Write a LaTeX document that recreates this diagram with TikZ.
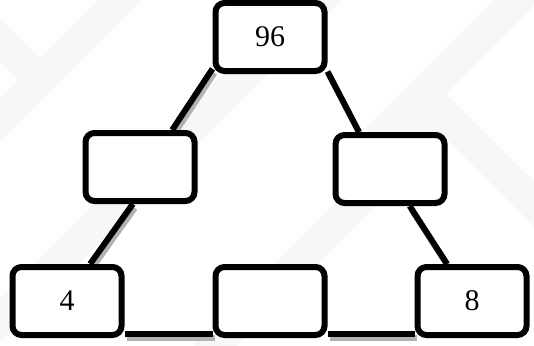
\documentclass[tikz,border=0pt]{standalone}
\usepackage{fontspec}
\setmainfont{Liberation Serif}
\usetikzlibrary{calc,backgrounds}

\tikzset{
  numbox/.style={draw, line width=6pt, rounded corners=9pt, fill=white, minimum width=109pt, minimum height=68pt, font=\fontsize{30}{34}\selectfont},
  link/.style={line width=6pt, preaction={draw=gray!60, line width=6pt, transform canvas={shift={(2pt,-4pt)}}}},
  stripe/.style={line width=32pt, gray!6}
}

\begin{document}
\begin{tikzpicture}[x=1pt, y=-1pt]
    \useasboundingbox (0,0) rectangle (534,345);
    \node (top) [numbox] at (270,37) {96};
    \node (ml) [numbox] at (140,167) {};
    \node (mr) [numbox] at (390,169) {};
    \node (bl) [numbox] at (67,301) {4};
    \node (bc) [numbox] at (270,301) {};
    \node (br) [numbox] at (472,301) {8};
    \begin{pgfonlayer}{background}
      % faint watermark behind the tree
      \begin{scope}
        \clip (0,0) rectangle (534,345);
        \draw[stripe] (-20,140) -- (140,-20);
        \draw[stripe] (-10,30) -- (40,80);
        \draw[stripe] (-10,330) -- (330,-10);
        \draw[stripe] (205,355) -- (445,115) -- (560,230);
        \draw[stripe] (377,140) -- (534,-17);
      \end{scope}
      \draw[link] (top.-151) -- (ml.49);
      \draw[link] (top.-31) -- (mr.130);
      \draw[link] (ml.-101) -- (bl.58);
      \draw[link] (mr.-62) -- (br.124);
      \draw[link] ([yshift=4pt]bl.south east) -- ([yshift=4pt]bc.south west);
      \draw[link] ([yshift=4pt]bc.south east) -- ([yshift=4pt]br.south west);
    \end{pgfonlayer}
\end{tikzpicture}
\end{document}
